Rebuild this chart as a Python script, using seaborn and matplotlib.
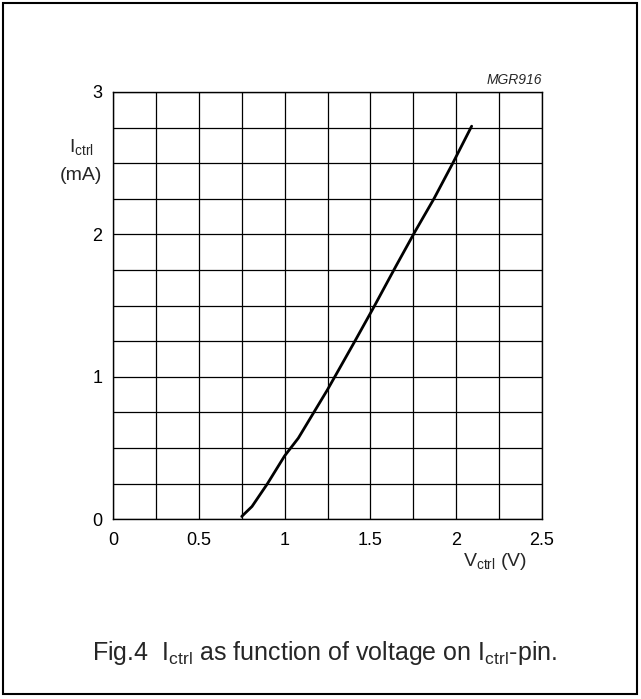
import matplotlib
matplotlib.use("Agg")
import matplotlib.pyplot as plt
import seaborn as sns
import pandas as pd
import numpy as np
from matplotlib.patches import Rectangle

# Data
v_ctrl = [0.75, 0.81, 0.90, 1.00, 1.08, 1.17, 1.25, 1.40, 1.52, 1.65, 1.76, 1.87, 1.98, 2.09]
i_ctrl = [0.02, 0.09, 0.25, 0.445, 0.57, 0.75, 0.91, 1.23, 1.49, 1.78, 2.02, 2.25, 2.50, 2.76]
x_ticks = [0, 0.5, 1, 1.5, 2, 2.5]
x_tick_labels = ["0", "0.5", "1", "1.5", "2", "2.5"]
y_ticks = [0, 1, 2, 3]
y_tick_labels = ["0", "1", "2", "3"]

sns.set_theme(style="white")
plt.rcParams['font.family'] = ['Liberation Sans', 'DejaVu Sans']
plt.rcParams['mathtext.fontset'] = 'custom'
plt.rcParams['mathtext.rm'] = 'Liberation Sans'
plt.rcParams['mathtext.it'] = 'Liberation Sans:italic'

W, H = 641, 699
fig = plt.figure(figsize=(W / 100, H / 100), dpi=100)
fig.patch.set_facecolor("white")

def fx(px):
    return px / W

def fy(py):
    return 1 - py / H

ax = fig.add_axes([fx(113), fy(519.3), (542 - 113) / W, (519.3 - 92) / H])
df = pd.DataFrame({"V": v_ctrl, "I": i_ctrl})
sns.lineplot(data=df, x="V", y="I", ax=ax, color="black", linewidth=2.0, sort=False)

ax.set_xlim(0, 2.5)
ax.set_ylim(0, 3)
ax.set_xticks(x_ticks)
ax.set_xticklabels(x_tick_labels)
ax.set_yticks(y_ticks)
ax.set_yticklabels(y_tick_labels)
ax.set_xticks(np.arange(0, 2.51, 0.25), minor=True)
ax.set_yticks(np.arange(0, 3.01, 0.25), minor=True)
ax.grid(which='both', color='black', linewidth=0.9)
ax.set_axisbelow(True)
ax.tick_params(which='both', length=0, labelsize=13, colors='black')
ax.tick_params(axis='x', pad=9)
ax.tick_params(axis='y', pad=7.5)
for s in ax.spines.values():
    s.set_color('black')
    s.set_linewidth(1.0)
ax.set_xlabel("")
ax.set_ylabel("")

fig.text(fx(81), fy(147), r"I$_{\mathrm{ctrl}}$", ha='center', va='center', fontsize=14)
fig.text(fx(81), fy(175), "(mA)", ha='center', va='center', fontsize=14)
fig.text(fx(527), fy(562), r"V$_{\mathrm{ctrl}}$ (V)", ha='right', va='center', fontsize=14)
fig.text(fx(542), fy(80), "MGR916", ha='right', va='center', fontsize=10, style='italic')
fig.text(fx(325), fy(653), r"Fig.4  I$_{\mathrm{ctrl}}$ as function of voltage on I$_{\mathrm{ctrl}}$-pin.",
         ha='center', va='center', fontsize=18)

fig.patches.append(Rectangle((fx(3), fy(694)), (637 - 3) / W, (694 - 3) / H,
                             transform=fig.transFigure, fill=False, lw=1.5, ec='black'))

fig.savefig("out.png", dpi=100)
